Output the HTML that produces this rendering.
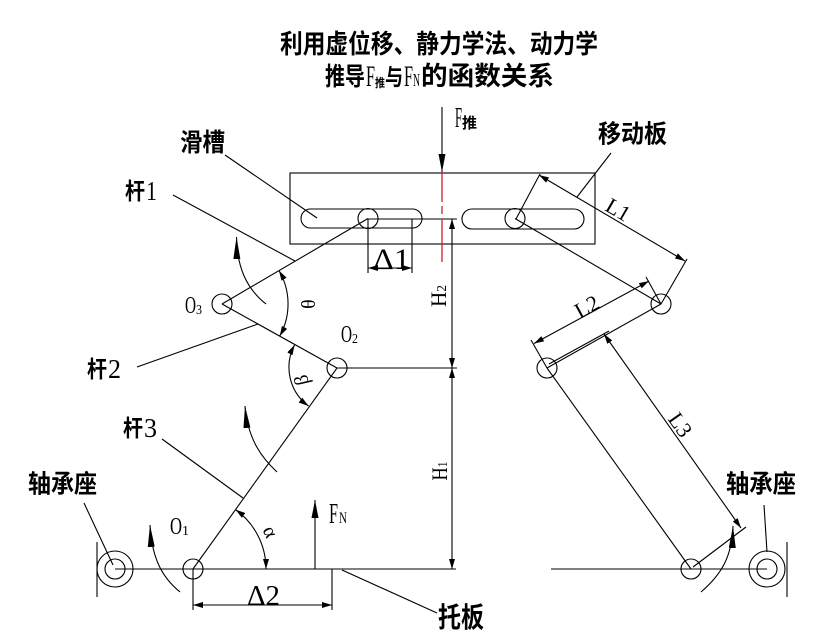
<!DOCTYPE html>
<html>
<head>
<meta charset="utf-8">
<style>
html,body{margin:0;padding:0;background:#fff;}
svg{display:block;}
.cj{font-family:"Liberation Sans","Noto Sans CJK SC",sans-serif;font-weight:bold;fill:#000;}
.sf{font-family:"Liberation Serif",serif;fill:#000;}
</style>
</head>
<body>
<svg width="819" height="638" viewBox="0 0 819 638" xmlns="http://www.w3.org/2000/svg">
<defs>
  <marker id="d" viewBox="0 0 10 6" markerWidth="10" markerHeight="6" refX="10" refY="3" orient="auto-start-reverse" markerUnits="userSpaceOnUse">
    <path d="M0,0 L10,3 L0,6 z" fill="#000"/>
  </marker>
  <marker id="r" viewBox="0 0 22 7" markerWidth="22" markerHeight="7" refX="22" refY="3.5" orient="auto-start-reverse" markerUnits="userSpaceOnUse">
    <path d="M0,0 L22,3.5 L0,7 z" fill="#000"/>
  </marker>
  <marker id="f" viewBox="0 0 18 7" markerWidth="18" markerHeight="7" refX="18" refY="3.5" orient="auto-start-reverse" markerUnits="userSpaceOnUse">
    <path d="M0,0 L18,3.5 L0,7 z" fill="#000"/>
  </marker>
</defs>
<rect x="0" y="0" width="819" height="638" fill="#fff"/>

<!-- Title -->
<text class="cj" x="280" y="53" font-size="26" textLength="318" lengthAdjust="spacingAndGlyphs">利用虚位移、静力学法、动力学</text>
<text class="cj" x="325" y="85" font-size="25" textLength="40" lengthAdjust="spacingAndGlyphs">推导</text>
<text class="sf" x="366" y="86" font-size="30" textLength="9" lengthAdjust="spacingAndGlyphs">F</text>
<text class="cj" x="375" y="87" font-size="12" textLength="10" lengthAdjust="spacingAndGlyphs">推</text>
<text class="cj" x="385" y="85" font-size="23" textLength="18" lengthAdjust="spacingAndGlyphs">与</text>
<text class="sf" x="404" y="86" font-size="30" textLength="9" lengthAdjust="spacingAndGlyphs">F</text>
<text class="sf" x="413" y="86" font-size="18" textLength="7" lengthAdjust="spacingAndGlyphs">N</text>
<text class="cj" x="421" y="85" font-size="26" textLength="133" lengthAdjust="spacingAndGlyphs">的函数关系</text>

<g stroke="#000" stroke-width="1.1" fill="none">
  <!-- moving plate -->
  <rect x="290" y="173" width="305" height="71"/>
  <rect x="301" y="209" width="121" height="19" rx="9.5" ry="9.5"/>
  <rect x="462" y="209" width="122" height="20" rx="10" ry="10"/>

  <!-- F push arrow -->
  <line x1="442" y1="107" x2="442" y2="172" marker-end="url(#f)"/>

  <!-- links left -->
  <line x1="222" y1="304" x2="368" y2="218.5"/>
  <line x1="222" y1="304" x2="337" y2="368"/>
  <line x1="337" y1="368" x2="193" y2="569"/>
  <!-- links right -->
  <line x1="515" y1="218.5" x2="661" y2="304"/>
  <line x1="661" y1="304" x2="547" y2="368"/>
  <line x1="547" y1="368" x2="691" y2="569"/>

  <!-- pins -->
  <circle cx="368" cy="218.5" r="10"/>
  <circle cx="515" cy="218.5" r="10"/>
  <circle cx="222" cy="304" r="10"/>
  <circle cx="337" cy="368" r="10"/>
  <circle cx="193" cy="569" r="10"/>
  <circle cx="661" cy="304" r="10"/>
  <circle cx="547" cy="368" r="10"/>
  <circle cx="691" cy="569" r="10"/>

  <!-- bearings -->
  <circle cx="115" cy="569" r="18"/>
  <circle cx="115" cy="569" r="10"/>
  <line x1="97" y1="542" x2="97" y2="597"/>
  <circle cx="767" cy="569" r="18"/>
  <circle cx="767" cy="569" r="10"/>
  <line x1="787" y1="542" x2="787" y2="597"/>

  <!-- base lines -->
  <line x1="115" y1="569" x2="456" y2="569"/>
  <line x1="551" y1="569" x2="767" y2="569"/>

  <!-- horizontal from O2 and top of H2 -->
  <line x1="337" y1="368" x2="457" y2="368"/>
  <line x1="368" y1="219" x2="457" y2="219"/>

  <!-- H2, H1 dimension lines -->
  <line x1="452" y1="219" x2="452" y2="368" marker-start="url(#d)" marker-end="url(#d)"/>
  <line x1="452" y1="368" x2="452" y2="569" marker-start="url(#d)" marker-end="url(#d)"/>

  <!-- Delta1 -->
  <line x1="368" y1="219" x2="368" y2="273"/>
  <line x1="412" y1="219" x2="412" y2="273"/>
  <line x1="368" y1="268" x2="412" y2="268" marker-start="url(#d)" marker-end="url(#d)"/>

  <!-- Delta2 -->
  <line x1="193" y1="569" x2="193" y2="610"/>
  <line x1="332" y1="569" x2="332" y2="610"/>
  <line x1="193" y1="605" x2="332" y2="605" marker-start="url(#d)" marker-end="url(#d)"/>

  <!-- FN arrow -->
  <line x1="315" y1="569" x2="315" y2="500" marker-end="url(#f)"/>

  <!-- leaders -->
  <line x1="225" y1="155" x2="317" y2="218"/>
  <line x1="173" y1="195" x2="295" y2="261"/>
  <line x1="137" y1="367" x2="258" y2="324"/>
  <line x1="162" y1="439" x2="243" y2="498"/>
  <line x1="611" y1="153" x2="577" y2="197"/>
  <line x1="84" y1="503" x2="113" y2="565"/>
  <line x1="764" y1="505" x2="767" y2="552"/>
  <line x1="342" y1="570" x2="437" y2="613"/>

  <!-- L1 dimension -->
  <line x1="516" y1="219" x2="540" y2="174"/>
  <line x1="661" y1="304" x2="687" y2="259"/>
  <line x1="539" y1="175" x2="685" y2="261" marker-start="url(#d)" marker-end="url(#d)"/>

  <!-- L2 dimension -->
  <line x1="547" y1="368" x2="531" y2="340"/>
  <line x1="661" y1="304" x2="646" y2="277"/>
  <line x1="534" y1="343.5" x2="649" y2="281" marker-start="url(#d)" marker-end="url(#d)"/>

  <!-- L3 dimension -->
  <line x1="549" y1="364" x2="609" y2="331"/>
  <line x1="693" y1="567" x2="746" y2="527"/>
  <line x1="604" y1="334" x2="741" y2="528" marker-start="url(#d)" marker-end="url(#d)"/>

  <!-- angle arcs -->
  <path d="M279,270.6 A66,66 0 0 1 279.7,336.1" marker-start="url(#d)" marker-end="url(#d)"/>
  <path d="M294.5,345 A48,48 0 0 0 308.5,406" marker-start="url(#d)" marker-end="url(#d)"/>
  <path d="M266,569 A73,73 0 0 0 235.5,509.6" marker-start="url(#d)" marker-end="url(#d)"/>

  <!-- rotation arrows -->
  <path d="M266,304 C247,289 237,268 236.5,237" marker-end="url(#r)"/>
  <path d="M277,472 C262,458 248,440 245,406" marker-end="url(#r)"/>
  <path d="M180,592 C163,578 152,560 150,525" marker-end="url(#r)"/>
  <path d="M701,592 C722,574 732,556 733,526" marker-end="url(#r)"/>
</g>

<!-- red centre line -->
<line x1="442" y1="172" x2="442" y2="262" stroke="#d0202c" stroke-width="1.3" stroke-dasharray="30 4 8 5 100"/>

<!-- Labels -->
<text class="sf" x="455" y="127" font-size="28" textLength="7" lengthAdjust="spacingAndGlyphs">F</text>
<text class="cj" x="462" y="128" font-size="15" textLength="15" lengthAdjust="spacingAndGlyphs">推</text>

<text class="cj" x="180" y="151" font-size="25" textLength="45" lengthAdjust="spacingAndGlyphs">滑槽</text>
<text class="cj" x="598" y="142.5" font-size="25" textLength="69" lengthAdjust="spacingAndGlyphs">移动板</text>

<text class="cj" x="125" y="199" font-size="23" textLength="20" lengthAdjust="spacingAndGlyphs">杆</text>
<text class="sf" x="146" y="200" font-size="27" textLength="11" lengthAdjust="spacingAndGlyphs">1</text>

<text class="cj" x="87" y="377" font-size="23" textLength="20" lengthAdjust="spacingAndGlyphs">杆</text>
<text class="sf" x="108" y="378" font-size="27" textLength="13" lengthAdjust="spacingAndGlyphs">2</text>

<text class="cj" x="123" y="436" font-size="23" textLength="20" lengthAdjust="spacingAndGlyphs">杆</text>
<text class="sf" x="144" y="437" font-size="27" textLength="13" lengthAdjust="spacingAndGlyphs">3</text>

<text class="sf" x="185" y="313" font-size="24" textLength="11" lengthAdjust="spacingAndGlyphs">O</text>
<text class="sf" x="196" y="314" font-size="14" textLength="6" lengthAdjust="spacingAndGlyphs">3</text>

<text class="sf" x="341" y="342" font-size="24" textLength="11" lengthAdjust="spacingAndGlyphs">O</text>
<text class="sf" x="352" y="343" font-size="14" textLength="6" lengthAdjust="spacingAndGlyphs">2</text>

<text class="sf" x="170" y="534" font-size="24" textLength="12" lengthAdjust="spacingAndGlyphs">O</text>
<text class="sf" x="182" y="535" font-size="14" textLength="7" lengthAdjust="spacingAndGlyphs">1</text>

<text class="cj" x="28" y="492.5" font-size="25" textLength="69" lengthAdjust="spacingAndGlyphs">轴承座</text>
<text class="cj" x="726" y="492.5" font-size="25" textLength="70" lengthAdjust="spacingAndGlyphs">轴承座</text>
<text class="cj" x="438" y="627" font-size="28" textLength="46" lengthAdjust="spacingAndGlyphs">托板</text>

<text class="sf" x="329" y="523" font-size="28" textLength="9" lengthAdjust="spacingAndGlyphs">F</text>
<text class="sf" x="339" y="523" font-size="16" textLength="8" lengthAdjust="spacingAndGlyphs">N</text>

<!-- H2 / H1 rotated -->
<g transform="translate(446,296) rotate(-90)">
  <text class="sf" x="0" y="0" font-size="22" text-anchor="middle" textLength="22" lengthAdjust="spacingAndGlyphs">H<tspan font-size="14">2</tspan></text>
</g>
<g transform="translate(447,471) rotate(-90)">
  <text class="sf" x="0" y="0" font-size="22" text-anchor="middle" textLength="19" lengthAdjust="spacingAndGlyphs">H<tspan font-size="14">1</tspan></text>
</g>

<!-- Delta labels -->
<text class="sf" x="373" y="269" font-size="30" textLength="37" lengthAdjust="spacingAndGlyphs">Δ1</text>
<text class="sf" x="247" y="605" font-size="28" textLength="33" lengthAdjust="spacingAndGlyphs">Δ2</text>

<!-- L labels -->
<g transform="translate(618,210) rotate(30.2)">
  <text class="sf" x="0" y="7" font-size="22" text-anchor="middle">L1</text>
</g>
<g transform="translate(587,307) rotate(-28.6)">
  <text class="sf" x="0" y="7" font-size="22" text-anchor="middle">L2</text>
</g>
<g transform="translate(680,425) rotate(54.7)">
  <text class="sf" x="0" y="7" font-size="22" text-anchor="middle">L3</text>
</g>

<!-- angle labels -->
<g transform="translate(307,304) rotate(90)">
  <text class="sf" x="0" y="6" font-size="20" text-anchor="middle">θ</text>
</g>
<g transform="translate(302,380) rotate(-103)">
  <text class="sf" x="0" y="6" font-size="20" text-anchor="middle">β</text>
</g>
<g transform="translate(270,532) rotate(63)">
  <text class="sf" x="0" y="6" font-size="20" text-anchor="middle">α</text>
</g>
</svg>
</body>
</html>
